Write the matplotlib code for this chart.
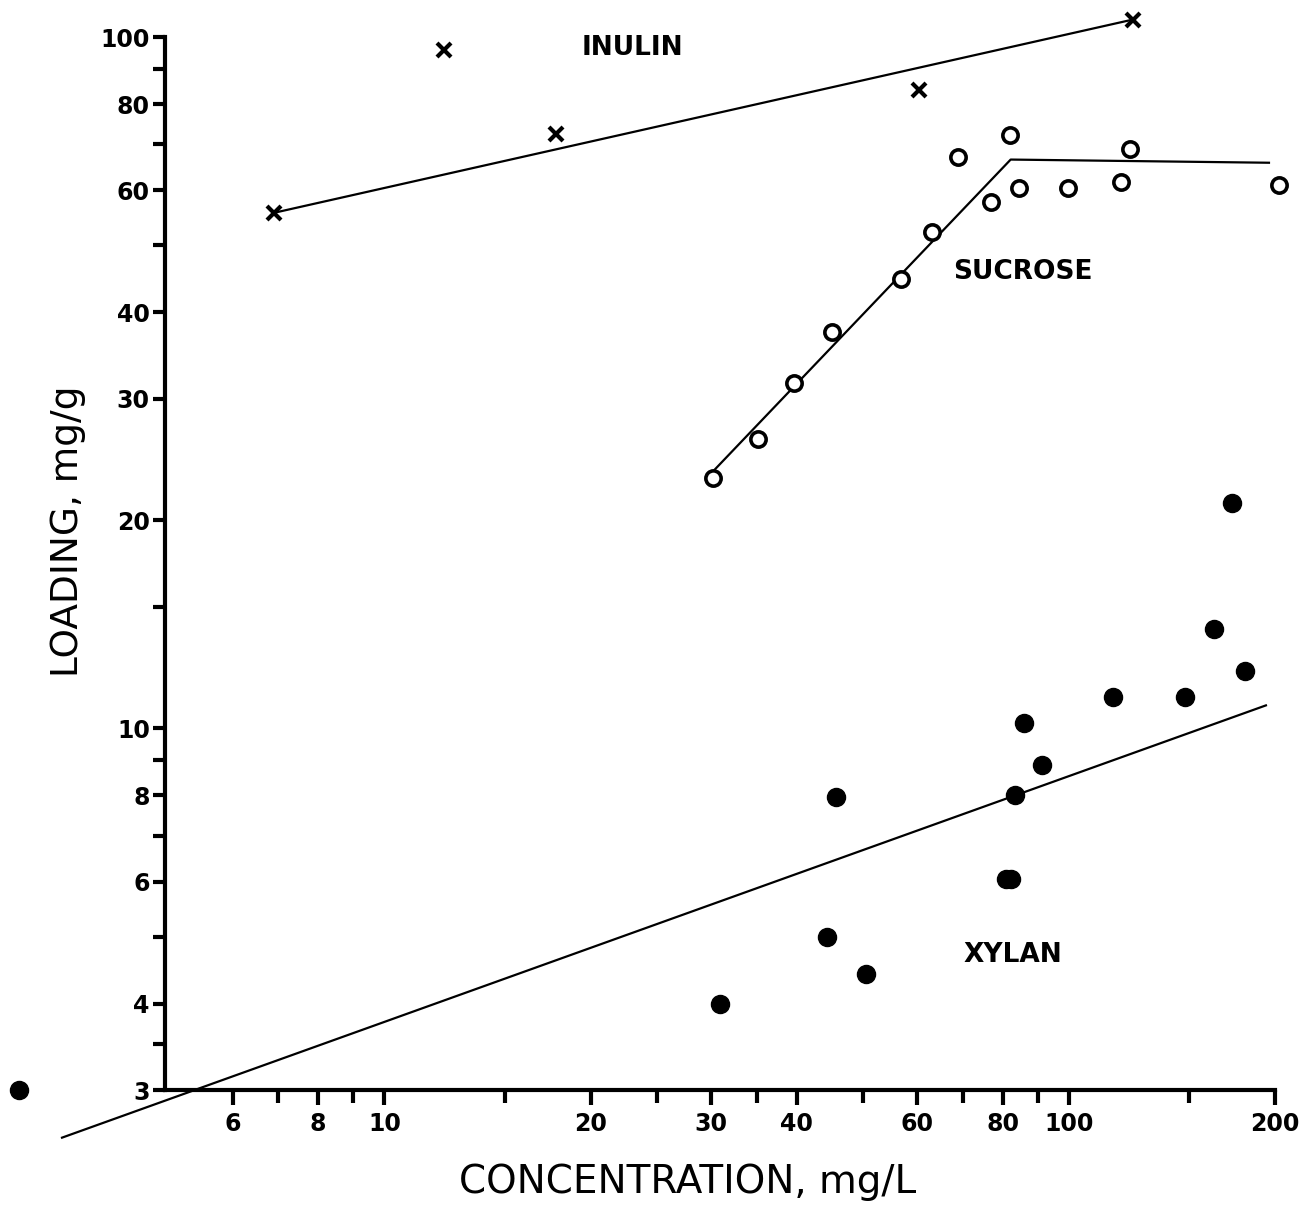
import matplotlib
matplotlib.use("Agg")
from matplotlib import pyplot as plt
from matplotlib.ticker import FixedLocator, NullFormatter

# data (log-log)
inulin_x = [6.9, 12.2, 17.8, 60.4, 124]
inulin_y = [55.7, 95.7, 72.4, 83.8, 106]
inulin_fit_x = [6.9, 124]
inulin_fit_y = [55.7, 106]

sucrose_x = [30.2, 35.1, 39.7, 45.1, 56.9, 63.0, 68.9, 76.9, 82.0, 84.6, 99.7, 119, 123, 203]
sucrose_y = [23.0, 26.2, 31.6, 37.5, 44.7, 52.3, 67.1, 57.8, 72.1, 60.5, 60.5, 61.7, 68.9, 61.1]
sucrose_fit_x = [29.9, 82.2, 196]
sucrose_fit_y = [23.3, 66.5, 65.8]

xylan_x = [2.92, 30.9, 45.7, 44.3, 50.6, 80.9, 82.3, 83.4, 85.9, 91.3, 116, 147.6, 162.7, 181, 173]
xylan_y = [3.0, 3.99, 7.95, 5.0, 4.41, 6.05, 6.05, 8.0, 10.2, 8.87, 11.1, 11.1, 13.95, 12.1, 21.2]
xylan_fit_x = [3.38, 194]
xylan_fit_y = [2.56, 10.8]

x_major = [6, 8, 10, 20, 30, 40, 60, 80, 100, 200]
x_minor = [7, 9, 15, 25, 35, 50, 70, 90, 150]
y_major = [3, 4, 6, 8, 10, 20, 30, 40, 60, 80, 100]
y_minor = [3.5, 5, 7, 9, 15, 50, 70, 90]

fig = plt.figure(figsize=(13.14, 12.19), dpi=100)
ax = fig.add_axes([0.1256, 0.1058, 0.9703 - 0.1256, 0.9696 - 0.1058])
ax.set_xscale("log")
ax.set_yscale("log")
ax.set_xlim(4.78, 200)
ax.set_ylim(3, 100)

lw = 1.6
ax.plot(inulin_fit_x, inulin_fit_y, color="black", lw=lw, clip_on=False)
ax.plot(sucrose_fit_x, sucrose_fit_y, color="black", lw=lw, clip_on=False)
ax.plot(xylan_fit_x, xylan_fit_y, color="black", lw=lw, clip_on=False)

ax.plot(inulin_x, inulin_y, ls="none", marker="x", ms=10, mew=3,
        color="black", clip_on=False)
ax.plot(sucrose_x, sucrose_y, ls="none", marker="o", ms=11, mew=2.6,
        mfc="white", mec="black", clip_on=False)
ax.plot(xylan_x, xylan_y, ls="none", marker="o", ms=13,
        color="black", clip_on=False)

# curve labels
lab = dict(fontsize=19, fontweight="bold", ha="center", va="center")
ax.text(23.0, 96.4, "INULIN", **lab)
ax.text(85.7, 45.7, "SUCROSE", **lab)
ax.text(82.8, 4.71, "XYLAN", **lab)

# axes styling
for s in ["top", "right"]:
    ax.spines[s].set_visible(False)
for s in ["left", "bottom"]:
    ax.spines[s].set_linewidth(3)

ax.xaxis.set_major_locator(FixedLocator(x_major))
ax.xaxis.set_minor_locator(FixedLocator(x_minor))
ax.yaxis.set_major_locator(FixedLocator(y_major))
ax.yaxis.set_minor_locator(FixedLocator(y_minor))
ax.set_xticklabels([str(v) for v in x_major])
ax.set_yticklabels([str(v) for v in y_major])
ax.xaxis.set_minor_formatter(NullFormatter())
ax.yaxis.set_minor_formatter(NullFormatter())

ax.tick_params(which="major", direction="out", length=11, width=3,
               labelsize=17, pad=5)
ax.tick_params(axis="y", which="major", length=9, pad=2)
ax.tick_params(which="minor", direction="out", length=9, width=3)
for t in ax.get_xticklabels() + ax.get_yticklabels():
    t.set_fontweight("bold")

fig.text(688 / 1314, 1 - 1182 / 1219, "CONCENTRATION, mg/L",
         fontsize=28, ha="center", va="center")
fig.text(68 / 1314, 1 - 531 / 1219, "LOADING, mg/g",
         fontsize=27, ha="center", va="center", rotation=90)

fig.savefig("out.png", dpi=100, facecolor="white")
